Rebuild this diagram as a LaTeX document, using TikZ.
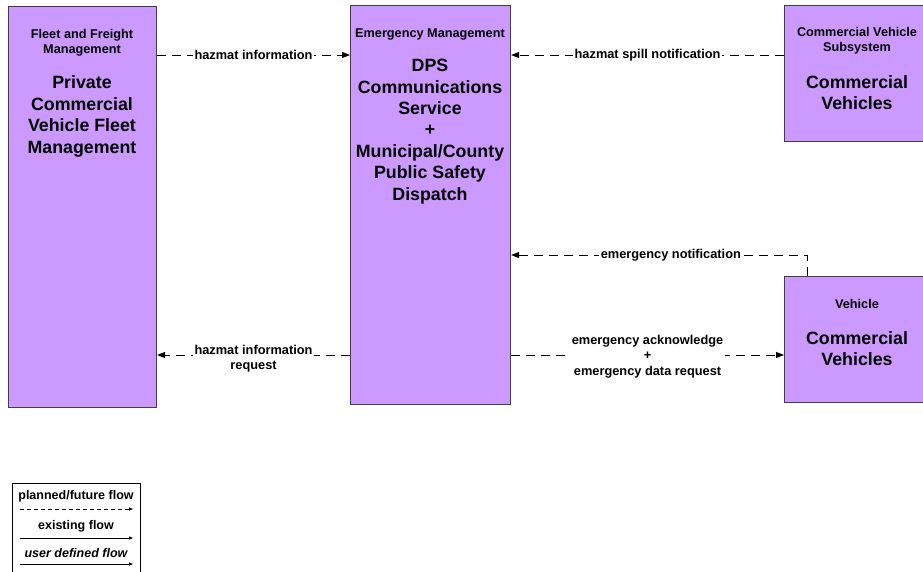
\documentclass[tikz,border=0pt]{standalone}
\usepackage{fontspec}
\setmainfont{Liberation Sans}
\usetikzlibrary{arrows.meta,calc}
\definecolor{boxfill}{HTML}{CC99FF}
\definecolor{boxline}{HTML}{404040}
\begin{document}
\begin{tikzpicture}[x=1pt,y=-1pt,
  box/.style={draw=boxline, line width=1.1pt, fill=boxfill, inner sep=0pt, anchor=north west},
  hdr/.style={font=\fontsize{12.7}{15}\selectfont\bfseries, align=center, inner sep=0pt},
  ttl/.style={font=\fontsize{17.8}{21.4}\selectfont\bfseries, align=center, inner sep=0pt},
  flow/.style={draw=black, line width=0.9pt, dash pattern=on 9pt off 6pt, -{Triangle[length=8pt,width=6pt]}},
  lbl/.style={font=\fontsize{12.8}{15}\selectfont\bfseries, fill=white, align=center, inner sep=1.5pt},
  lgt/.style={font=\fontsize{12.5}{14}\selectfont\bfseries, inner sep=0pt},
  lgflow/.style={draw=black, line width=0.8pt, -{Triangle[length=4pt,width=3pt]}},
]
\useasboundingbox (0,0) rectangle (923,571);
% boxes
\node[box, minimum width=148pt, minimum height=401pt] (b1) at (8,6) {};
\node[box, minimum width=160pt, minimum height=399pt] (b2) at (350,5) {};
\node[box, minimum width=148pt, minimum height=136pt] (b3) at (784,5) {};
\node[box, minimum width=148pt, minimum height=126pt] (b4) at (784,276) {};
% box texts
\node[hdr] (h1) at (82,43) {Fleet and Freight\\Management};
\node[ttl] (t1) at (82,116.5) {Private\\Commercial\\Vehicle Fleet\\Management};
\node[hdr] (h2) at (430,34) {Emergency Management};
\node[ttl] (t2) at (430,131.5) {DPS\\Communications\\Service\\+\\Municipal/County\\Public Safety\\Dispatch};
\node[hdr] (h3) at (857,41) {Commercial Vehicle\\Subsystem};
\node[ttl] (t3) at (857,92.5) {Commercial\\Vehicles};
\node[hdr] (h4) at (857,304) {Vehicle};
\node[ttl] (t4) at (857,348.5) {Commercial\\Vehicles};
% flows
\draw[flow] (b1.east |- 0,55) -- node[lbl] (l1) {hazmat information} (b2.west |- 0,55);
\draw[flow] (b3.west |- 0,55) -- node[lbl] (l2) {hazmat spill notification} (b2.east |- 0,55);
\coordinate (c1) at (807,255);
\draw[flow] (b4.north -| c1) -- (c1) -- node[lbl, pos=0.46] (l3) {emergency notification} (b2.east |- c1);
\draw[flow] (b2.east |- 0,355) -- node[lbl, yshift=-1.5pt, font=\fontsize{12.8}{15.5}\selectfont\bfseries] (l4) {emergency acknowledge\\+\\emergency data request} (b4.west |- 0,355);
\draw[flow] (b2.west |- 0,355) -- node[lbl, yshift=-3.5pt] (l5) {hazmat information\\request} (b1.east |- 0,355);
% legend
\node[draw=black, line width=0.8pt, minimum width=128pt, minimum height=100pt, anchor=north west, inner sep=0pt] (lg) at (12,483) {};
\node[lgt] (lt1) at (76,496) {planned/future flow};
\node[lgt] (lt2) at (76,526) {existing flow};
\node[lgt, font=\fontsize{12.5}{14}\selectfont\bfseries\itshape] (lt3) at (76,553) {user defined flow};
\coordinate (la1) at (20,509); \coordinate (lb1) at (133,509);
\coordinate (la2) at (20,538); \coordinate (lb2) at (133,538);
\coordinate (la3) at (20,564); \coordinate (lb3) at (133,564);
\draw[lgflow, dash pattern=on 4pt off 3pt] (la1) -- (lb1);
\draw[lgflow] (la2) -- (lb2);
\draw[lgflow] (la3) -- (lb3);
\end{tikzpicture}
\end{document}
